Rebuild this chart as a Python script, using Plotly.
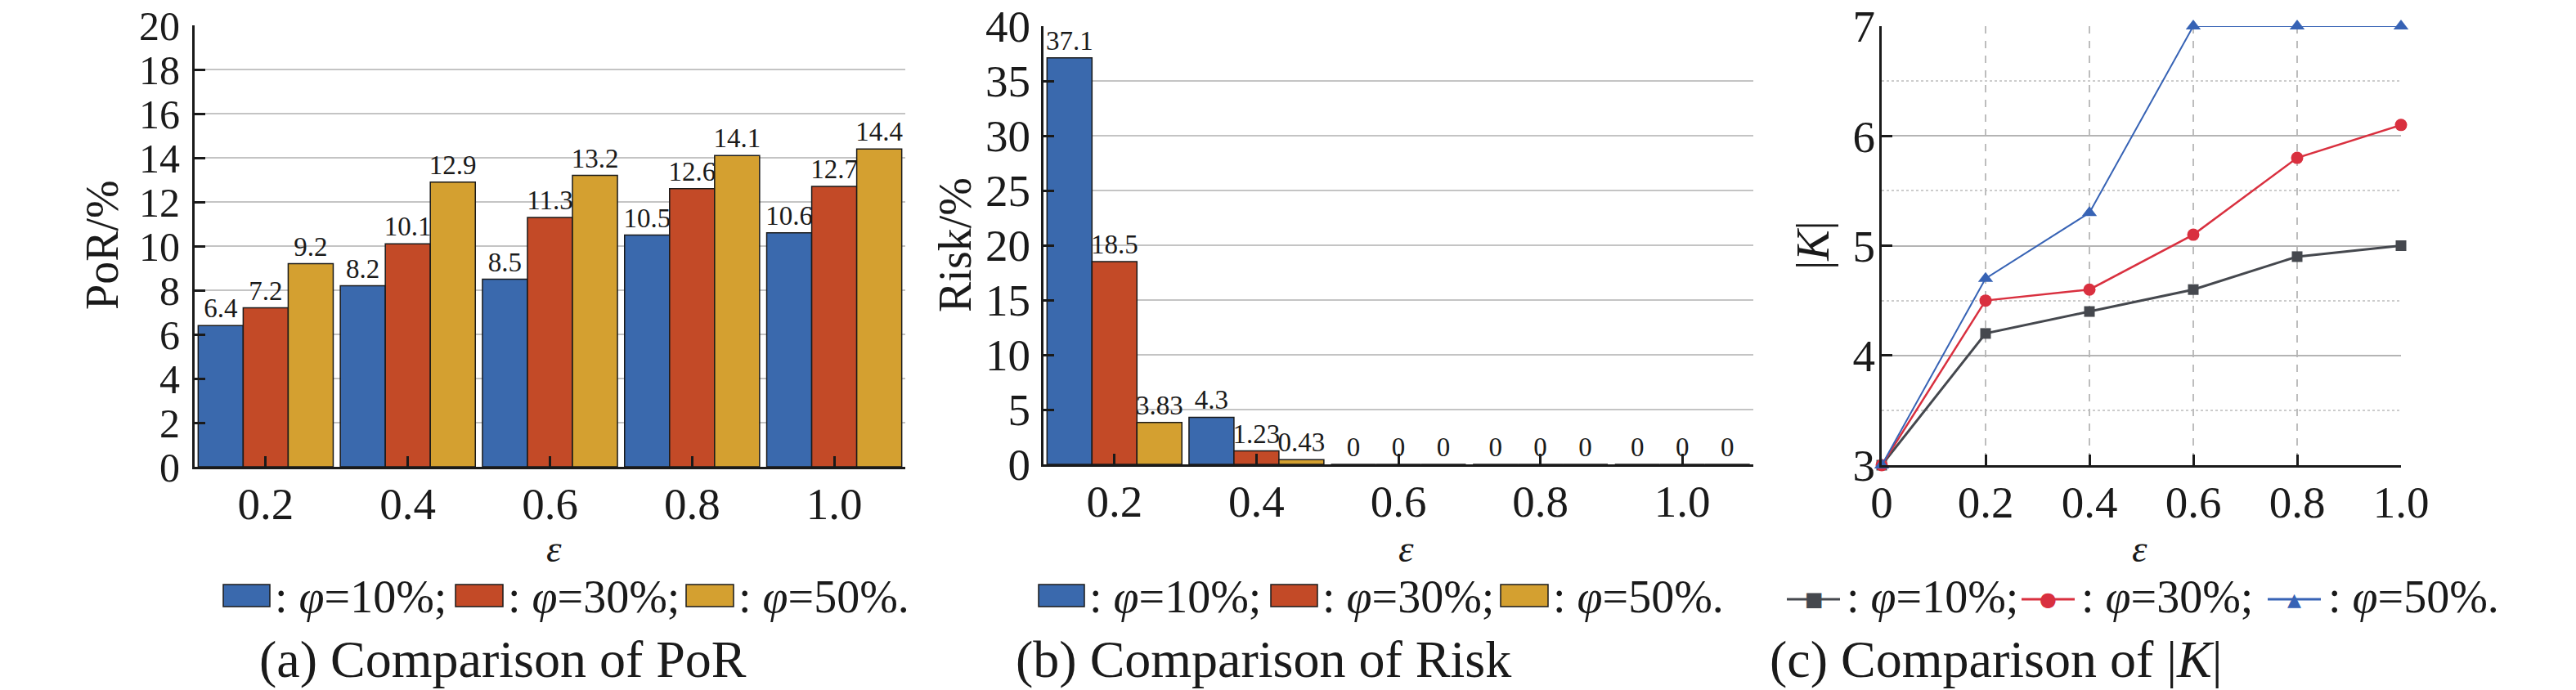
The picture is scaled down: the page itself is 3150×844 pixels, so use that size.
import plotly.graph_objects as go

# ---------------- data ----------------
eps_labels = ['0.2', '0.4', '0.6', '0.8', '1.0']
phi_names = ['φ=10%', 'φ=30%', 'φ=50%']

por_10 = [6.4, 8.2, 8.5, 10.5, 10.6]
por_30 = [7.2, 10.1, 11.3, 12.6, 12.7]
por_50 = [9.2, 12.9, 13.2, 14.1, 14.4]

risk_10 = [37.1, 4.3, 0, 0, 0]
risk_30 = [18.5, 1.23, 0, 0, 0]
risk_50 = [3.83, 0.43, 0, 0, 0]

k_eps = [0, 0.2, 0.4, 0.6, 0.8, 1.0]
k_eps_labels = ['0', '0.2', '0.4', '0.6', '0.8', '1.0']
k_10 = [3, 4.2, 4.4, 4.6, 4.9, 5.0]
k_30 = [3, 4.5, 4.6, 5.1, 5.8, 6.1]
k_50 = [3, 4.7, 5.3, 7, 7, 7]

# ---------------- style ----------------
W, H = 3150, 844
FONT = 'Liberation Serif'
INK = '#1a1a1a'
bar_colors = ['#3a69ad', '#c34a27', '#d4a030']
line_colors = ['#45484e', '#d9303f', '#3763b5']
GRID = '#c4c4c4'


def px_x(p):
    return p / W


def px_y(p):
    return 1 - p / H


fig = go.Figure()

# (a) PoR bars
for vals, name, col in zip([por_10, por_30, por_50], phi_names, bar_colors):
    fig.add_trace(go.Bar(
        x=eps_labels, y=vals, name=name, xaxis='x', yaxis='y',
        marker=dict(color=col, line=dict(color=INK, width=1.5)),
        text=[f'{v:g}' for v in vals], textposition='outside',
        textfont=dict(family=FONT, size=33, color=INK),
        constraintext='none', cliponaxis=False, showlegend=False))

# (b) Risk bars
for vals, name, col in zip([risk_10, risk_30, risk_50], phi_names, bar_colors):
    fig.add_trace(go.Bar(
        x=eps_labels, y=vals, name=name, xaxis='x2', yaxis='y2',
        marker=dict(color=col, line=dict(color=INK, width=1.5)),
        text=[f'{v:g}' for v in vals], textposition='outside',
        textfont=dict(family=FONT, size=33, color=INK),
        constraintext='none', cliponaxis=False, showlegend=False))

# (c) |K| lines
symbols = ['square', 'circle', 'triangle-up']
msizes = [13, 15, 16]
lwidths = [3, 2.5, 2]
for vals, name, col, sym, ms, lw in zip([k_10, k_30, k_50], phi_names, line_colors,
                                         symbols, msizes, lwidths):
    fig.add_trace(go.Scatter(
        x=k_eps, y=vals, name=name, xaxis='x3', yaxis='y3', mode='lines+markers',
        line=dict(color=col, width=lw), marker=dict(symbol=sym, size=ms, color=col),
        cliponaxis=False, showlegend=False))


def ax(size=55, **kw):
    d = dict(showline=True, linewidth=3, linecolor=INK, ticks='inside',
             ticklen=13, tickwidth=3, tickcolor=INK,
             tickfont=dict(family=FONT, size=size, color=INK),
             zeroline=False, mirror=False, automargin=False,
             ticklabeloverflow='allow')
    d.update(kw)
    return d


fig.update_layout(
    width=W, height=H, margin=dict(l=0, r=0, t=0, b=0, pad=0),
    paper_bgcolor='white', plot_bgcolor='white',
    barmode='group', bargap=0.05, bargroupgap=0,
    font=dict(family=FONT, color=INK),
    xaxis=ax(domain=[px_x(238), px_x(1107)], anchor='y', type='category',
             range=[-0.5, 4.5], showgrid=False, ticklabelstandoff=-5),
    yaxis=ax(size=50, domain=[px_y(571), px_y(31)], anchor='x', range=[0, 20], dtick=2,
             showgrid=True, gridcolor=GRID, gridwidth=1.5, ticklabelstandoff=5),
    xaxis2=ax(domain=[px_x(1276), px_x(2144)], anchor='y2', type='category',
              range=[-0.5, 4.5], showgrid=False, ticklabelstandoff=-5),
    yaxis2=ax(domain=[px_y(568), px_y(32)], anchor='x2', range=[0, 40], dtick=5,
              showgrid=True, gridcolor=GRID, gridwidth=1.5, ticklabelstandoff=2),
    xaxis3=ax(domain=[px_x(2301), px_x(2936)], anchor='y3', range=[0, 1.0],
              tickvals=k_eps, ticktext=k_eps_labels, showgrid=True,
              gridcolor='#bdbdbd', gridwidth=1.5, griddash='dash',
              ticklabelstandoff=-5),
    yaxis3=ax(domain=[px_y(569), px_y(32)], anchor='x3', range=[3, 7], dtick=1,
              showgrid=True, gridcolor='#b4b4b4', gridwidth=2,
              minor=dict(dtick=0.5, showgrid=True, gridcolor='#cccccc',
                         griddash='dot', gridwidth=1.5, ticks=''),
              ticklabelstandoff=-6),
)

shapes = []
annotations = []

# ---------------- axis titles ----------------
title_font = dict(family=FONT, size=56, color=INK)
for cx, txt in [(125, 'PoR/%'), (1168, 'Risk/%'), (2217, '|<i>K</i>|')]:
    annotations.append(dict(xref='paper', yref='paper', x=px_x(cx), y=px_y(300),
                            xanchor='center', yanchor='middle', showarrow=False,
                            textangle=-90, text=txt, font=title_font))
eps_font = dict(family=FONT, size=47, color=INK)
for cx in [677, 1720, 2616]:
    annotations.append(dict(xref='paper', yref='paper', x=px_x(cx), y=px_y(671),
                            xanchor='center', yanchor='middle', showarrow=False,
                            text='<i>ε</i>', font=eps_font))

# ---------------- custom legends ----------------
LEG_Y = 730
leg_font = dict(family=FONT, size=56, color=INK)
leg_bar_pos = {
    'a': ([(273, 330), (557, 615), (839, 897)], [334, 619, 901]),
    'b': ([(1270, 1326), (1554, 1611), (1835, 1893)], [1330, 1615, 1897]),
}
ends = [';', ';', '.']
for key, (sw, tx) in leg_bar_pos.items():
    for i, ((x0, x1), t) in enumerate(zip(sw, tx)):
        shapes.append(dict(type='rect', xref='paper', yref='paper',
                           x0=px_x(x0), x1=px_x(x1), y0=px_y(742), y1=px_y(715),
                           fillcolor=bar_colors[i], line=dict(color=INK, width=1.5)))
        annotations.append(dict(xref='paper', yref='paper', x=px_x(t), y=px_y(LEG_Y),
                                xanchor='left', yanchor='middle', showarrow=False,
                                text=': <i>φ</i>=' + phi_names[i].split('=')[1] + ends[i],
                                font=leg_font))

line_leg = [(2185, 2250, 2218, 2256), (2472, 2537, 2504, 2543), (2773, 2838, 2805, 2845)]
glyphs = ['■', '●', '▲']
gsizes = [24, 24, 22]
for i, (x0, x1, xm, t) in enumerate(line_leg):
    shapes.append(dict(type='line', xref='paper', yref='paper',
                       x0=px_x(x0), x1=px_x(x1), y0=px_y(733), y1=px_y(733),
                       line=dict(color=line_colors[i], width=3)))
    annotations.append(dict(xref='paper', yref='paper', x=px_x(xm), y=px_y(733),
                            xanchor='center', yanchor='middle', showarrow=False,
                            text=glyphs[i],
                            font=dict(family='DejaVu Sans', size=gsizes[i],
                                      color=line_colors[i])))
    annotations.append(dict(xref='paper', yref='paper', x=px_x(t), y=px_y(LEG_Y),
                            xanchor='left', yanchor='middle', showarrow=False,
                            text=': <i>φ</i>=' + phi_names[i].split('=')[1] + ends[i],
                            font=leg_font))

# ---------------- captions ----------------
cap_font = dict(family=FONT, size=64, color=INK)
for cx, txt in [(615, '(a) Comparison of PoR'), (1545, '(b) Comparison of Risk'),
                (2441, '(c) Comparison of |<i>K</i>|')]:
    annotations.append(dict(xref='paper', yref='paper', x=px_x(cx), y=px_y(806),
                            xanchor='center', yanchor='middle', showarrow=False,
                            text=txt, font=cap_font))

fig.update_layout(shapes=shapes, annotations=annotations)
fig.write_html('out.html', config={'displayModeBar': False},
               post_script="document.body.style.margin='0px';"
                           "document.body.style.overflow='hidden';")
